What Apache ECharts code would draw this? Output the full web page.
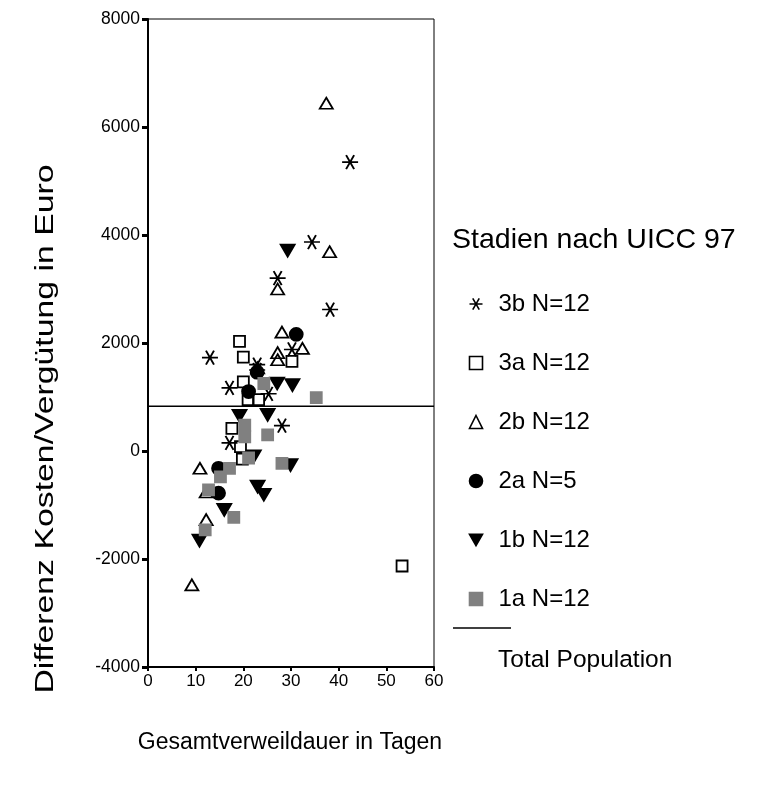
<!DOCTYPE html>
<html>
<head>
<meta charset="utf-8">
<script src="https://cdn.jsdelivr.net/npm/echarts@6/dist/echarts.min.js"></script>
<style>
  html, body { margin: 0; padding: 0; background: #fff; }
  #chart { width: 765px; height: 785px; }
</style>
</head>
<body>
<div id="chart"></div>
<script>
// Achsen
var xTicks = { min: 0, max: 60, step: 10 };
var yTicks = { min: -4000, max: 8000, step: 2000 };

// Gesamtverweildauer (Tage), Differenz (Euro) je Stadium
var s3b = [[42.4, 5350], [34.4, 3870], [27.2, 3200], [38.2, 2620], [30.2, 1880], [13, 1730],
           [22.9, 1600], [22.9, 1500], [17.1, 1170], [25.3, 1060], [28.1, 470], [17.1, 150]];
var s3a = [[19.2, 2030], [20, 1740], [30.2, 1660], [20, 1280], [21, 950], [23.2, 950],
           [17.6, 420], [19.4, 80], [19.8, -150], [53.3, -2130]];
var s2b = [[37.4, 6440], [38.1, 3690], [27.2, 3000], [28.1, 2200], [27.2, 1820], [27.2, 1690],
           [32.4, 1900], [23, 1540], [10.9, -320], [12.2, -760], [12.2, -1270], [9.2, -2480]];
var s2a = [[31.1, 2160], [22.9, 1460], [21.1, 1100], [14.8, -320], [14.8, -780]];
var s1b = [[29.3, 3710], [27.1, 1250], [30.3, 1220], [19.2, 650], [25.1, 670], [22.2, -100],
           [29.9, -260], [23, -660], [24.3, -810], [16, -1090], [10.8, -1660]];
var s1a = [[24.3, 1250], [35.3, 990], [20.3, 480], [20.3, 260], [25.1, 300], [21.1, -130],
           [28.1, -230], [17.1, -320], [15.2, -480], [12.7, -720], [18, -1230], [12, -1460]];

// Mittelwert Gesamtpopulation
var totalLine = [[0, 830], [60, 830]];

var names = ['3b N=12', '3a N=12', '2b N=12', '2a N=5', '1b N=12', '1a N=12'];

var FONT = '"Liberation Sans", Arial, sans-serif';
var starPath = 'path://M0,0.866L2,0.866M0.5,0L1.5,1.732M1.5,0L0.5,1.732';
var downTri = 'path://M0,0L2,0L1,1.732Z';

var chart = echarts.init(document.getElementById('chart'));

function sc(name, data, symbol, size, fill, border) {
    return {
        name: name,
        type: 'scatter',
        data: data,
        symbol: symbol,
        symbolSize: size,
        itemStyle: { color: fill, borderColor: border, borderWidth: 1.8, opacity: 1 },
        emphasis: { disabled: true }
    };
}

chart.setOption({
    animation: false,
    backgroundColor: '#fff',
    grid: { left: 148, top: 19, width: 286, height: 648, show: true, borderColor: '#000', borderWidth: 1 },
    xAxis: {
        type: 'value', min: xTicks.min, max: xTicks.max, interval: xTicks.step,
        axisLine: { show: true, onZero: false, lineStyle: { color: '#000', width: 2 } },
        axisTick: { show: true, length: 4, lineStyle: { color: '#000', width: 2 } },
        axisLabel: { color: '#000', fontSize: 17, fontFamily: FONT, margin: 6 },
        splitLine: { show: false }
    },
    yAxis: {
        type: 'value', min: yTicks.min, max: yTicks.max, interval: yTicks.step,
        axisLine: { show: true, onZero: false, lineStyle: { color: '#000', width: 2 } },
        axisTick: { show: true, length: 6, lineStyle: { color: '#000', width: 3 } },
        axisLabel: { color: '#000', fontSize: 17.5, fontFamily: FONT, margin: 8, formatter: function (v) { return String(v); } },
        splitLine: { show: false }
    },
    legend: {
        data: names,
        orient: 'vertical',
        left: 462,
        top: 287,
        itemWidth: 13,
        itemHeight: 13,
        itemGap: 35,
        selectedMode: false,
        itemStyle: { borderWidth: 1.6 },
        textStyle: { color: '#000', fontSize: 24, fontFamily: FONT, lineHeight: 20, padding: [0, 0, 0, 11] }
    },
    graphic: [
        { type: 'text', x: 452, y: 240, style: { text: 'Stadien nach UICC 97', font: '28.5px ' + FONT, fill: '#000', textVerticalAlign: 'middle' } },
        { type: 'line', shape: { x1: 453, y1: 628, x2: 511, y2: 628 }, style: { stroke: '#000', lineWidth: 1.5 } },
        { type: 'text', x: 498, y: 660, style: { text: 'Total Population', font: '24.5px ' + FONT, fill: '#000', textVerticalAlign: 'middle' } },
        { type: 'text', x: 290, y: 743, style: { text: 'Gesamtverweildauer in Tagen', font: '23px ' + FONT, fill: '#000', textAlign: 'center', textVerticalAlign: 'middle' } },
        { type: 'text', x: 46, y: 429, rotation: Math.PI / 2, scaleX: 1.3, style: { text: 'Differenz Kosten/Vergütung in Euro', font: '26px ' + FONT, fill: '#000', textAlign: 'center', textVerticalAlign: 'middle' } }
    ],
    series: [
        {
            name: 'Total Population',
            type: 'line',
            data: totalLine,
            symbol: 'none',
            lineStyle: { color: '#000', width: 1.5 },
            z: 1
        },
        sc(names[0], s3b, starPath, [16, 14], 'none', '#000'),
        sc(names[1], s3a, 'rect', 11, 'none', '#000'),
        sc(names[2], s2b, 'triangle', [13, 11], 'none', '#000'),
        sc(names[3], s2a, 'circle', 13, '#000', '#000'),
        sc(names[4], s1b, downTri, [14, 12], '#000', '#000'),
        sc(names[5], s1a, 'rect', 11, '#808080', '#808080')
    ]
});
</script>
</body>
</html>
